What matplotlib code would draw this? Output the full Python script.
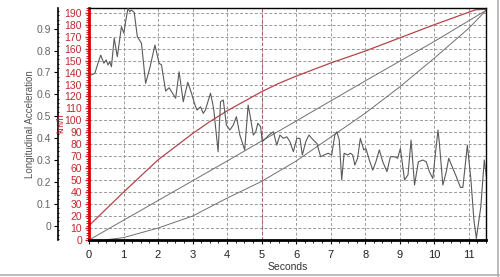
import numpy as np
import matplotlib
matplotlib.use('Agg')
import matplotlib.pyplot as plt
from matplotlib.ticker import MultipleLocator
from matplotlib.lines import Line2D

plt.rcParams['font.family'] = ['Liberation Sans', 'DejaVu Sans']

# longitudinal acceleration (left axis)
acc_t = [0.01, 0.17, 0.26, 0.34, 0.43, 0.50, 0.55, 0.60, 0.65, 0.73, 0.82, 0.94, 1.01, 1.06,
         1.13, 1.18, 1.23, 1.31, 1.40, 1.52, 1.64, 1.76, 1.91, 2.03, 2.10, 2.22, 2.32, 2.51,
         2.61, 2.73, 2.86, 2.97, 3.07, 3.13, 3.23, 3.31, 3.37, 3.52, 3.61, 3.74, 3.81, 3.89,
         3.98, 4.08, 4.18, 4.27, 4.37, 4.51, 4.61, 4.68, 4.76, 4.83, 4.89, 4.97, 5.02, 5.12,
         5.21, 5.34, 5.44, 5.53, 5.63, 5.73, 5.82, 5.92, 6.02, 6.11, 6.18, 6.28, 6.37, 6.50,
         6.60, 6.71, 6.81, 6.93, 7.03, 7.12, 7.18, 7.25, 7.32, 7.39, 7.49, 7.57, 7.64, 7.70,
         7.78, 7.86, 7.96, 8.02, 8.12, 8.22, 8.31, 8.41, 8.51, 8.63, 8.73, 8.85, 8.94, 9.02,
         9.14, 9.24, 9.33, 9.43, 9.54, 9.67, 9.77, 9.86, 9.96, 10.03, 10.11, 10.15, 10.25,
         10.35, 10.42, 10.54, 10.64, 10.76, 10.83, 10.96, 11.06, 11.15, 11.22, 11.35, 11.45, 11.51]
acc_g = [0.684, 0.696, 0.742, 0.779, 0.742, 0.757, 0.734, 0.749, 0.726, 0.856, 0.772, 0.909,
         0.879, 0.932, 0.993, 0.977, 0.985, 0.974, 0.863, 0.833, 0.650, 0.719, 0.825, 0.742,
         0.734, 0.615, 0.630, 0.582, 0.703, 0.566, 0.655, 0.605, 0.551, 0.528, 0.543, 0.513,
         0.528, 0.605, 0.536, 0.338, 0.566, 0.574, 0.460, 0.437, 0.460, 0.498, 0.414, 0.346,
         0.551, 0.490, 0.414, 0.429, 0.468, 0.452, 0.384, 0.399, 0.414, 0.429, 0.368, 0.414,
         0.399, 0.406, 0.384, 0.338, 0.399, 0.399, 0.323, 0.384, 0.414, 0.391, 0.376, 0.315,
         0.323, 0.331, 0.323, 0.414, 0.429, 0.391, 0.209, 0.331, 0.323, 0.331, 0.323, 0.277,
         0.308, 0.399, 0.346, 0.353, 0.300, 0.254, 0.292, 0.346, 0.292, 0.247, 0.315, 0.315,
         0.308, 0.353, 0.209, 0.232, 0.391, 0.186, 0.292, 0.300, 0.292, 0.247, 0.216, 0.323,
         0.437, 0.376, 0.186, 0.247, 0.308, 0.262, 0.224, 0.175, 0.175, 0.368, 0.216, 0.026,
         -0.058, 0.087, 0.300, 0.224]

# speed (km/h)
speed_t = [0, 0.5, 1, 1.5, 2, 2.5, 3, 3.5, 4, 4.5, 5, 5.5, 6, 7, 8, 9, 10, 11, 11.2, 11.5]
speed = [12, 26, 40, 53.5, 67, 78, 89, 99, 108, 116, 124, 131, 137, 148, 158, 169, 180, 190.5, 192.5, 193]

# gray reference runs
refA_t = [0, 2, 4, 6, 8, 10, 11.5]
refA = [0, 33, 66, 99.5, 133, 166, 192]
refB_t = [0.45, 1, 2, 3, 4, 5, 6, 7, 8, 9, 10, 11, 11.5]
refB = [0, 2, 10, 20, 35, 49, 66, 86, 106, 128, 152, 177, 192]

red = '#c0282d'
fig = plt.figure(figsize=(5, 2.77), dpi=100)
ax = fig.add_axes([0.178, 0.1336, 0.794, 0.8375])

ax.set_xlim(0, 11.5)
ax.set_ylim(0, 194)
ax.xaxis.set_major_locator(MultipleLocator(1))
ax.xaxis.set_minor_locator(MultipleLocator(0.25))
ax.yaxis.set_major_locator(MultipleLocator(10))
ax.yaxis.set_minor_locator(MultipleLocator(2))
ax.grid(True, which='major', color='#9a9a9a', linestyle=(0, (3, 2)), linewidth=0.7)
ax.axvline(5, color='#b06060', linestyle=(0, (3, 2)), linewidth=0.8)

ax.plot(speed_t, speed, color='#b5444a', linewidth=0.9)
ax.plot(refA_t, refA, color='#707070', linewidth=0.7)
ax.plot(refB_t, refB, color='#707070', linewidth=0.7)

ax.tick_params(axis='y', which='major', colors=red, labelcolor=red, labelsize=7.5, length=3, width=1, pad=2)
ax.tick_params(axis='y', which='minor', colors=red, length=2, width=0.8)
ax.tick_params(axis='x', which='major', labelsize=8, length=3, pad=4, labelcolor='#222222')
ax.tick_params(axis='x', which='minor', length=2)
ax.spines['left'].set_color('#dd0000')
ax.spines['left'].set_linewidth(2)
ax.spines['bottom'].set_linewidth(2)
ax.spines['top'].set_linewidth(1)
ax.spines['right'].set_linewidth(1)

ax2 = ax.twinx()
ax2.set_ylim(-0.065, 0.994)
ax2.plot(acc_t, acc_g, color='#5a5a5a', linewidth=0.8)
ax2.yaxis.set_ticks_position('left')
ax2.spines['left'].set_position(('axes', -0.078))
ax2.spines['left'].set_visible(True)
ax2.spines['right'].set_visible(False)
ax2.spines['top'].set_visible(False)
ax2.spines['bottom'].set_visible(False)
ax2.spines['left'].set_linewidth(1.2)
ax2.set_yticks(np.arange(0, 0.95, 0.1))
ax2.set_yticklabels(['0', '0.1', '0.2', '0.3', '0.4', '0.5', '0.6', '0.7', '0.8', '0.9'])
ax2.yaxis.set_minor_locator(MultipleLocator(0.02))
ax2.tick_params(axis='y', which='major', labelsize=7.5, labelcolor='#666666', length=3, pad=2)
ax2.tick_params(axis='y', which='minor', length=1.5, direction='inout')

ax.set_xlabel('Seconds', fontsize=7.5, color='#333333', labelpad=2)
fig.text(30 / 500, 1 - 124 / 277, 'Longitudinal Acceleration', rotation=90, fontsize=7,
         color='#555555', ha='center', va='center')
fig.text(60.5 / 500, 1 - 123 / 277, 'km/h', rotation=90, fontsize=6.5, color=red,
         ha='center', va='center')

fig.add_artist(Line2D([0, 1], [0.006, 0.006], color='#b0b0b0', linewidth=1.2))
fig.add_artist(Line2D([0.996, 0.996], [0, 1], color='#b0b0b0', linewidth=1.2))

fig.savefig('out.png', dpi=100)
